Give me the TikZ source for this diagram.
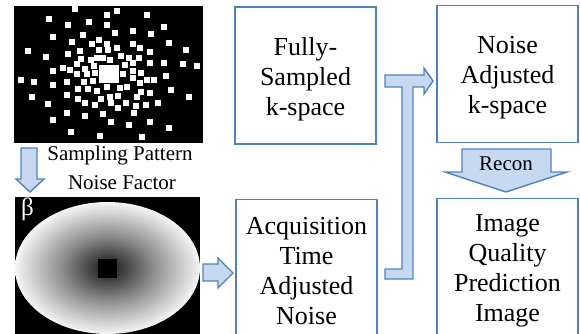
\documentclass[tikz,border=0pt]{standalone}
\usepackage{fontspec}
\setmainfont{Liberation Serif}
\definecolor{bblue}{RGB}{79,129,189}
\definecolor{lblue}{RGB}{198,217,241}
\definecolor{dkc}{RGB}{22,22,22}
\definecolor{mdc}{RGB}{142,142,142}
\definecolor{ltc}{RGB}{245,245,245}
\pgfdeclareradialshading{noiseshade}{\pgfpoint{0bp}{0bp}}{color(0bp)=(dkc); color(12.5bp)=(mdc); color(25bp)=(ltc); color(50bp)=(ltc)}
\tikzset{
  box/.style={draw=bblue, line width=1.4pt, minimum width=141pt, minimum height=137pt, inner sep=0pt},
  boxtext/.style={align=center, inner sep=0pt, font=\fontsize{26}{30}\selectfont, yshift=-3.5pt},
  blockarrow/.style={draw=bblue, fill=lblue, line width=1.4pt, line join=miter},
  lbl/.style={font=\fontsize{21}{24}\selectfont, inner sep=0pt},
  sq/.style={fill=white}
}
\begin{document}
\begin{tikzpicture}[x=1pt,y=-1pt]
\useasboundingbox (0,0) rectangle (580,334);
\clip (0,0) rectangle (580,334);
% sampling pattern
\node[fill=black, minimum width=189pt, minimum height=137pt, inner sep=0pt] (pattern) at (108.5,74.5) {};
\foreach \a/\b in {226/27,352/32,320/44,440/46,148/56,267/67,320/75,203/76,493/80,344/98,398/92,452/102,250/104,158/112,297/119,216/127,275/133,320/132,398/132,508/129,84/152,350/145,420/145,240/152,298/151,325/150,450/157,557/151,203/162,363/167,388/175,418/173,138/172,290/175,310/175,330/180,272/181,243/177,231/191,375/194,400/190,450/190,493/188,548/193,590/199,283/198,255/208,189/203,211/209,158/212,230/222,262/222,284/218,370/221,400/214,424/220,497/227,278/242,252/246,200/247,158/254,398/234,420/250,440/240,463/240,62/241,103/247,322/262,360/265,380/262,235/267,265/266,290/273,423/275,450/279,514/269,95/291,200/286,233/296,255/308,303/296,330/292,354/289,412/290,568/290,145/312,285/314,333/308,378/308,355/323,407/317,437/315,475/309,200/340,255/349,310/343,403/338,158/360,333/366,387/374,450/366,506/385,213/395,300/408,427/412}
  \fill[sq] ({\a/3-3},{\b/3-3}) rectangle ++(6,6);
\fill[sq] (98.5,65) rectangle (119,83.5);
% labels
\node[lbl] (sp) at (120,155) {Sampling Pattern};
\node[lbl] (nf) at (122,183) {Noise Factor};
% noise factor image
\node[fill=black, minimum width=185pt, minimum height=140pt, inner sep=0pt] (noise) at (107.5,267) {};
\begin{scope}
  \clip (15,197) rectangle (200,337);
  \shade[shading=noiseshade] (107.5,268) ellipse [x radius=92.5pt, y radius=66pt];
\end{scope}
\fill[black] (98,258.5) rectangle (117,277.5);
\node[text=white, font=\fontsize{25}{27}\selectfont, inner sep=0pt] (beta) at (27.5,209) {β};
% boxes
\node[box] (fs) at (305.5,75.5) {};
\node[box] (nak) at (507.5,74) {};
\node[box] (atan) at (306.5,268) {};
\node[box] (iqp) at (507.5,267) {};
\node[boxtext] (fst) at (fs.center) {Fully-\\Sampled\\k-space};
\node[boxtext] (nakt) at (nak.center) {Noise\\Adjusted\\k-space};
\node[boxtext] (atant) at (atan.center) {Acquisition\\Time\\Adjusted\\Noise};
\node[boxtext] (iqpt) at (iqp.center) {Image\\Quality\\Prediction\\Image};
% block arrows
\draw[blockarrow] (21,148) -- (37,148) -- (37,179) -- (44,179) -- (30,192) -- (16,179) -- (21,179) -- cycle;
\draw[blockarrow] (203,264) -- (218,264) -- (218,258) -- (233,273) -- (218,288) -- (218,281) -- (203,281) -- cycle;
\draw[blockarrow] (385,269) -- (402,269) -- (402,87) -- (385,87) -- (385,75) -- (424,75) -- (424,68) -- (433,81) -- (424,94) -- (424,87) -- (413,87) -- (413,279) -- (385,279) -- cycle;
\draw[blockarrow] (462,149) -- (551,149) -- (551,172) -- (567,172) -- (506,192) -- (445,172) -- (462,172) -- cycle;
\node[lbl] (recon) at (506,164) {Recon};
\end{tikzpicture}
\end{document}
